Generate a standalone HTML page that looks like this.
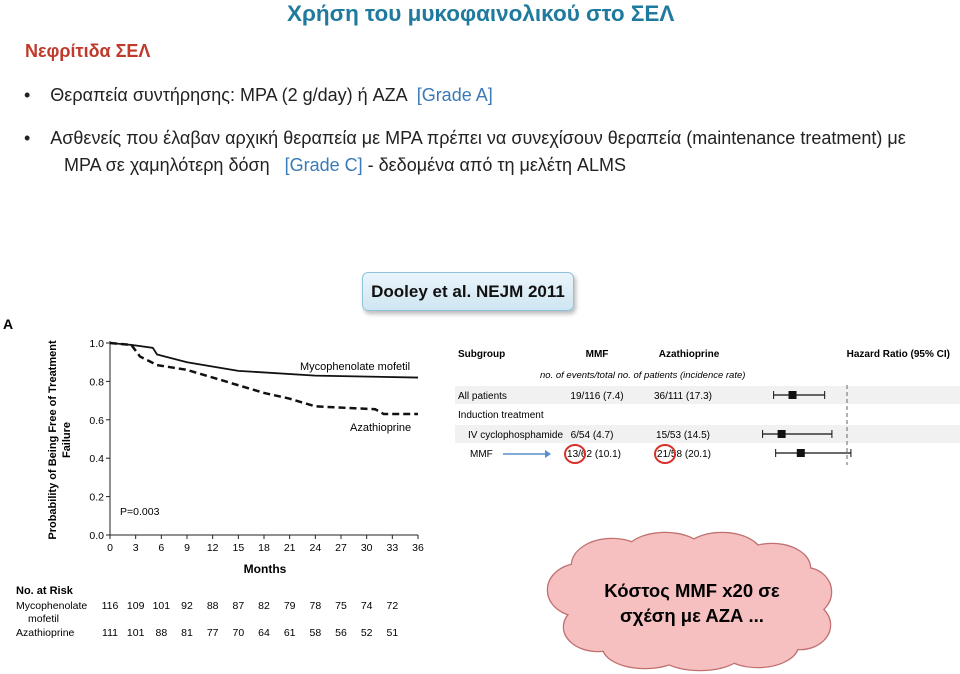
<!DOCTYPE html>
<html><head><meta charset="utf-8">
<style>
body{margin:0;width:960px;height:674px;background:#fff;position:relative;overflow:hidden;font-family:"Liberation Sans",sans-serif}
.t{position:absolute;white-space:nowrap}
</style></head><body>
<div class="t" style="left:287px;top:1px;font-size:22.5px;font-weight:bold;color:#1f7a9e">Χρήση του μυκοφαινολικού στο ΣΕΛ</div>
<div class="t" style="left:25px;top:41px;font-size:18px;font-weight:bold;color:#c0392b">Νεφρίτιδα ΣΕΛ</div>
<div class="t" style="left:24px;top:85px;font-size:18px;color:#222">•&nbsp;&nbsp;&nbsp;&nbsp;Θεραπεία συντήρησης: MPA (2 g/day) ή AZA &nbsp;<span style="color:#3a7ab8">[Grade A]</span></div>
<div class="t" style="left:24px;top:125px;font-size:18px;color:#222;line-height:27px">•&nbsp;&nbsp;&nbsp;&nbsp;Ασθενείς που έλαβαν αρχική θεραπεία με MPA πρέπει να συνεχίσουν θεραπεία (maintenance treatment) με<br>&nbsp;&nbsp;&nbsp;&nbsp;&nbsp;&nbsp;&nbsp;&nbsp;MPA σε χαμηλότερη δόση &nbsp;&nbsp;<span style="color:#3a7ab8">[Grade C]</span> - δεδομένα από τη μελέτη ALMS</div>
<div class="t" style="left:362px;top:272px;width:210px;height:37px;border:1px solid #8fc2dd;border-radius:6px;background:linear-gradient(#eaf5fb,#cfe6f2);box-shadow:2px 3px 4px #bbb;font-size:17px;font-weight:bold;color:#111;text-align:center;line-height:37px">Dooley et al. NEJM 2011</div>

<svg id="km" width="960" height="674" style="position:absolute;left:0;top:0" font-family="Liberation Sans, sans-serif">
<text x="3" y="329" font-size="14" font-weight="bold">A</text>
<g id="kmg"></g>
<text x="265" y="573" font-size="12" font-weight="bold" text-anchor="middle">Months</text>
<text transform="translate(56,440) rotate(-90)" font-size="11" font-weight="bold" text-anchor="middle"><tspan x="0" y="0">Probability of Being Free of Treatment</tspan><tspan x="0" y="14">Failure</tspan></text>
<text x="120" y="515" font-size="10.5">P=0.003</text>
<text x="300" y="370" font-size="11">Mycophenolate mofetil</text>
<text x="350" y="431" font-size="11">Azathioprine</text>
<text x="16" y="594" font-size="11" font-weight="bold">No. at Risk</text>
<text x="16" y="609" font-size="10.5">Mycophenolate</text>
<text x="28" y="622" font-size="10.5">mofetil</text>
<text x="16" y="636" font-size="10.5">Azathioprine</text>
<g id="risk"></g>

<rect x="455" y="386" width="505" height="18" fill="#f1f1f1"/>
<rect x="455" y="425" width="505" height="18" fill="#f1f1f1"/>
<g font-size="10">
<text x="458" y="357" font-weight="bold">Subgroup</text>
<text x="597" y="357" font-weight="bold" text-anchor="middle">MMF</text>
<text x="689" y="357" font-weight="bold" text-anchor="middle">Azathioprine</text>
<text x="950" y="357" font-weight="bold" text-anchor="end">Hazard Ratio (95% CI)</text>
<text x="540" y="378" font-style="italic" font-size="9.5">no. of events/total no. of patients (incidence rate)</text>
<text x="458" y="399">All patients</text>
<text x="597" y="399" text-anchor="middle">19/116 (7.4)</text>
<text x="683" y="399" text-anchor="middle">36/111 (17.3)</text>
<text x="458" y="418">Induction treatment</text>
<text x="468" y="438" textLength="95">IV cyclophosphamide</text>
<text x="592" y="438" text-anchor="middle">6/54 (4.7)</text>
<text x="683" y="438" text-anchor="middle">15/53 (14.5)</text>
<text x="470" y="457">MMF</text>
<text x="594" y="457" text-anchor="middle">13/62 (10.1)</text>
<text x="684" y="457" text-anchor="middle">21/58 (20.1)</text>
</g>
<line x1="503" y1="454" x2="545" y2="454" stroke="#5b8fc9" stroke-width="1.5"/>
<polygon points="545,450 551,454 545,458" fill="#5b8fc9"/>
<ellipse cx="575" cy="454" rx="10" ry="9" fill="none" stroke="#d9302b" stroke-width="2"/>
<ellipse cx="665" cy="454" rx="10" ry="9" fill="none" stroke="#d9302b" stroke-width="2"/>
<line x1="847" y1="385" x2="847" y2="465" stroke="#666" stroke-dasharray="4,3"/>
<g id="forest"></g>

<g>
<g fill="none" stroke="#c07070" stroke-width="2.5" id="cloudS"></g>
<g fill="#f6c0c0" id="cloudF"></g>
</g>
<text x="692" y="597" font-size="18.5" font-weight="bold" text-anchor="middle">Κόστος MMF x20 σε</text>
<text x="692" y="622" font-size="18.5" font-weight="bold" text-anchor="middle">σχέση με ΑΖΑ ...</text>
</svg>
<script>
const months=[0,2.5,5,5.5,9,15,24,36];
const mmfProb=[1,0.99,0.975,0.94,0.9,0.855,0.83,0.82];
const azaMonths=[0,2.5,3.5,5.5,9,15,18,21,24,31,32,36];
const azaProb=[1,0.99,0.93,0.885,0.86,0.78,0.74,0.71,0.67,0.655,0.63,0.63];
const xTicks=[0,3,6,9,12,15,18,21,24,27,30,33,36];
const yTicks=[0,0.2,0.4,0.6,0.8,1.0];
const riskMMF=[116,109,101,92,88,87,82,79,78,75,74,72];
const riskAZA=[111,101,88,81,77,70,64,61,58,56,52,51];
const hrLabels=["All patients","IV cyclophosphamide","MMF"];
const hrPoint=[0.58,0.52,0.63];
const hrLow=[0.48,0.43,0.49];
const hrHigh=[0.80,0.86,1.04];

const NS="http://www.w3.org/2000/svg";
const X=m=>110+m*(308/36), Y=p=>535-p*192;
function mk(t,a,parent){const e=document.createElementNS(NS,t);for(const k in a)e.setAttribute(k,a[k]);parent.appendChild(e);return e;}
const g=document.getElementById('kmg');
let ax=mk('path',{d:`M110,${Y(1)-2}V535H418`,stroke:'#222',fill:'none','stroke-width':1},g);


xTicks.forEach(m=>{mk('line',{x1:X(m),x2:X(m),y1:535,y2:539,stroke:'#222'},g);
 const t=mk('text',{x:X(m),y:551,'font-size':10.5,'text-anchor':'middle'},g);t.textContent=m;
 
 });
yTicks.forEach(v=>{mk('line',{x1:106,x2:110,y1:Y(v),y2:Y(v),stroke:'#222'},g);
 const t=mk('text',{x:104,y:Y(v)+4,'font-size':10.5,'text-anchor':'end'},g);t.textContent=v.toFixed(1);
 
 });
const pts=(xs,ys)=>xs.map((m,i)=>X(m)+','+Y(ys[i])).join(' ');
let l1=mk('polyline',{points:pts(months,mmfProb),fill:'none',stroke:'#111','stroke-width':1.8},g);


let l2=mk('polyline',{points:pts(azaMonths,azaProb),fill:'none',stroke:'#111','stroke-width':2.5,'stroke-dasharray':'7,4'},g);


const r=document.getElementById('risk');
riskMMF.forEach((v,i)=>{const t=mk('text',{x:X(xTicks[i]),y:609,'font-size':10.5,'text-anchor':'middle'},r);t.textContent=v;
 
 });
riskAZA.forEach((v,i)=>{const t=mk('text',{x:X(xTicks[i]),y:636,'font-size':10.5,'text-anchor':'middle'},r);t.textContent=v;
 
 });
const HX=h=>847+Math.log(h)*100;
const rowsY=[395,434,453];
const f=document.getElementById('forest');
hrPoint.forEach((h,i)=>{const y=rowsY[i];
 let l=mk('line',{x1:HX(hrLow[i]),x2:HX(hrHigh[i]),y1:y,y2:y,stroke:'#111','stroke-width':1.2},f);
 
 
 mk('line',{x1:HX(hrLow[i]),x2:HX(hrLow[i]),y1:y-4,y2:y+4,stroke:'#111'},f);
 mk('line',{x1:HX(hrHigh[i]),x2:HX(hrHigh[i]),y1:y-4,y2:y+4,stroke:'#111'},f);
 let s=mk('rect',{x:HX(h)-4,y:y-4,width:8,height:8,fill:'#111'},f);
 
 });
const bumps=[[580,590,32,26],[612,565,40,26],[665,557,42,24],[722,556,40,23],[772,568,38,24],[805,592,26,24],[800,625,30,24],[758,645,40,22],[700,650,44,20],[645,647,42,21],[598,627,34,24],[692,602,120,44]];
const cs=document.getElementById('cloudS'),cf=document.getElementById('cloudF');
bumps.forEach(b=>{mk('ellipse',{cx:b[0],cy:b[1],rx:b[2],ry:b[3]},cs);mk('ellipse',{cx:b[0],cy:b[1],rx:b[2],ry:b[3]},cf);});
</script>
</body></html>
